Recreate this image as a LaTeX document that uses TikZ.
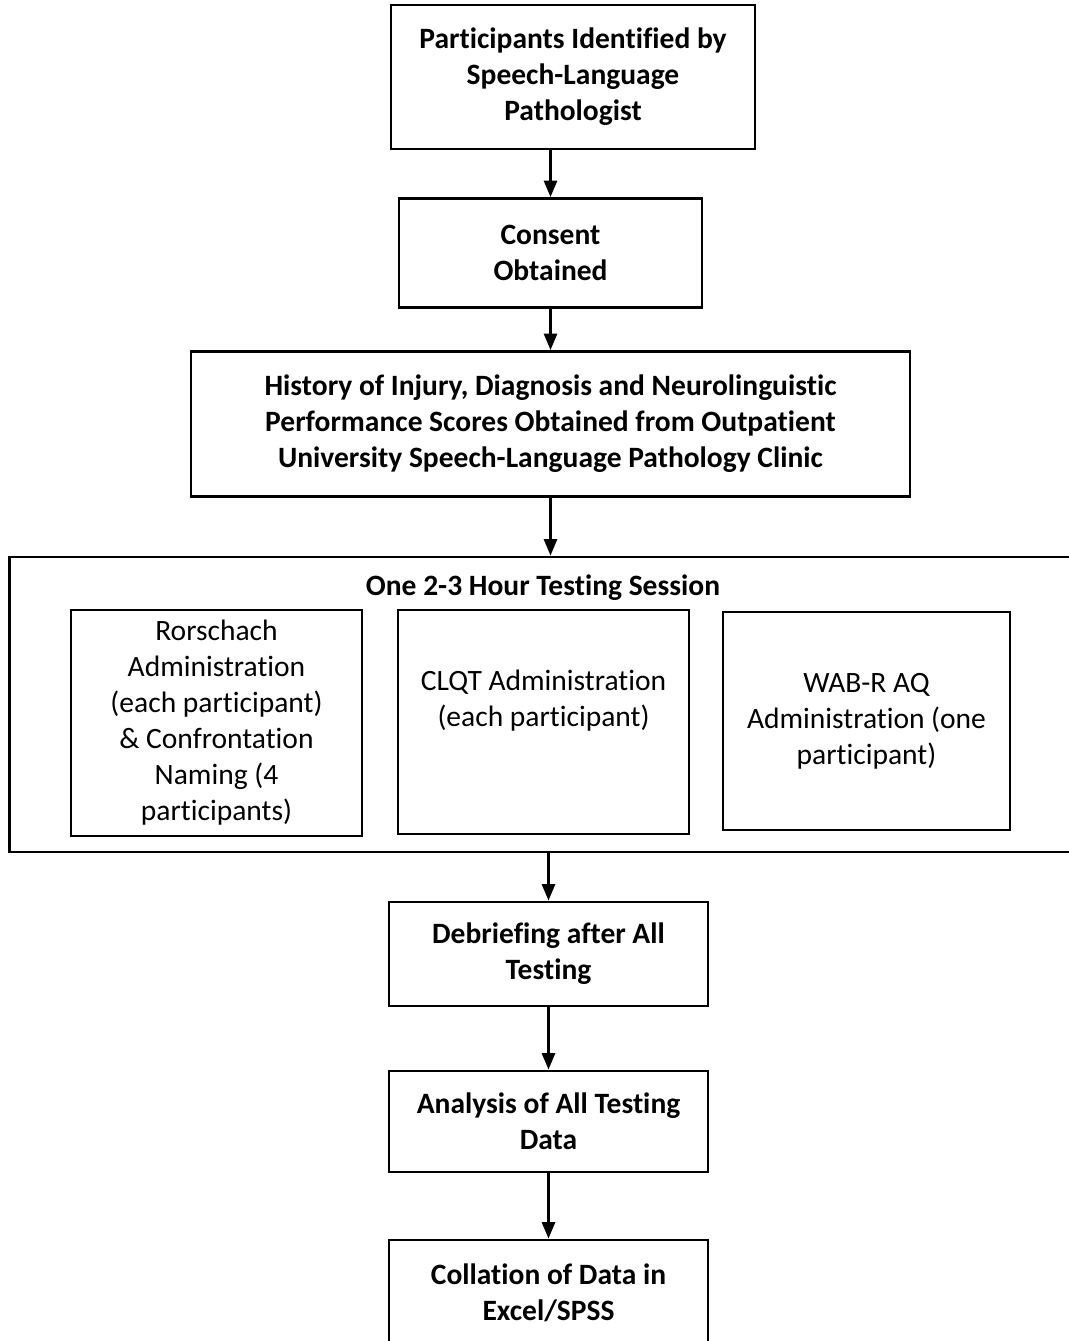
\documentclass[tikz,border=0pt]{standalone}
\usepackage{fontspec}
\setmainfont{Carlito}[RawFeature=-liga]
\usetikzlibrary{calc, positioning, arrows, arrows.meta}

\tikzset{
  box/.style={rectangle,draw,line width=1.6pt,align=center,inner sep=2pt},
  boldbox/.style={box,font=\fontsize{16.8}{20.5}\selectfont\bfseries},
  flow/.style={line width=1.6pt,-{Triangle[length=0.33cm,width=0.26cm]}}
}

\begin{document}
\begin{tikzpicture}[x=0.02cm,y=-0.02cm,font=\fontsize{16.8}{20.5}\selectfont]
            \useasboundingbox (0,0) rectangle (1068,1341);
            % main steps
            \node[boldbox,minimum width=7.28cm,minimum height=2.88cm] (ident) at (573,77) {Participants Identified by\\Speech-Language\\Pathologist};
            \node[boldbox,minimum width=6.06cm,minimum height=2.18cm] (consent) at (550.5,253) {Consent\\Obtained};
            \node[boldbox,minimum width=14.38cm,minimum height=2.9cm] (hist) at (550.5,424) {History of Injury, Diagnosis and Neurolinguistic\\Performance Scores Obtained from Outpatient\\University Speech-Language Pathology Clinic};
            % testing session
            \node[box,minimum width=21.62cm,minimum height=5.9cm] (session) at (549.5,704.5) {};
            \node[font=\fontsize{16.8}{20.5}\selectfont\bfseries] (sessiontitle) at (543,588) {One 2-3 Hour Testing Session};
            \node[box,minimum width=5.82cm,minimum height=4.52cm] (rorschach) at (216.5,723) {Rorschach\\Administration\\(each participant)\\\& Confrontation\\Naming (4\\participants)};
            \node[box,minimum width=5.82cm,minimum height=4.48cm] (clqt) at (543.5,722) {CLQT Administration\\(each participant)\\\strut};
            \node[box,minimum width=5.74cm,minimum height=4.36cm] (wab) at (866.5,721) {WAB-R AQ\\Administration (one\\participant)};
            % after testing
            \node[boldbox,minimum width=6.38cm,minimum height=2.08cm] (debrief) at (548.5,954) {Debriefing after All\\Testing};
            \node[boldbox,minimum width=6.38cm,minimum height=2.02cm] (analysis) at (548.5,1121.5) {Analysis of All Testing\\Data};
            \node[boldbox,minimum width=6.38cm,minimum height=2.1cm] (collation) at (548.5,1292.5) {Collation of Data in\\Excel/SPSS};
            % arrows
            \draw[flow] (consent.north |- ident.south) -- (consent.north);
            \draw[flow] (consent) -- (hist);
            \draw[flow] (hist.south) -- (hist.south |- session.north);
            \draw[flow] (debrief.north |- session.south) -- (debrief.north);
            \draw[flow] (debrief) -- (analysis);
            \draw[flow] (analysis) -- (collation);
\end{tikzpicture}
\end{document}
